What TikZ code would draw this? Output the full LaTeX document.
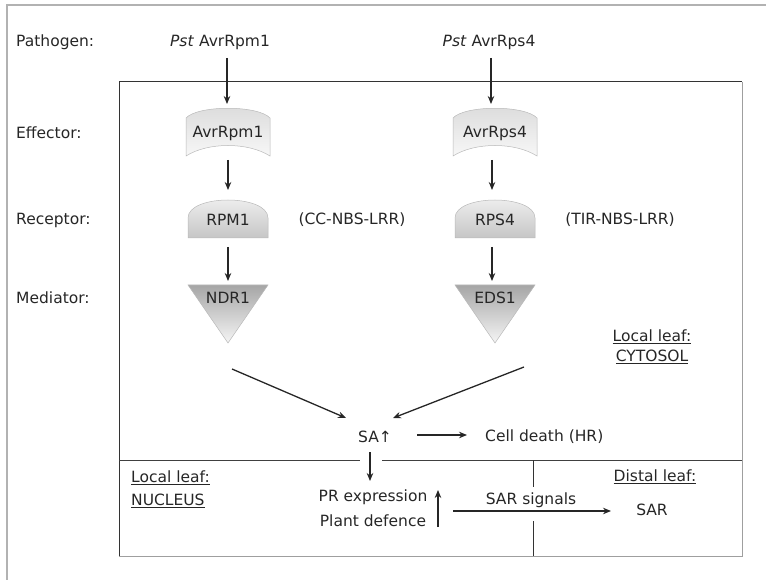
\documentclass[tikz,border=0pt]{standalone}
\usepackage{fontspec}
\setmainfont{DejaVu Sans}
\usetikzlibrary{arrows.meta}
\begin{document}
\begin{tikzpicture}[x=1pt,y=-1pt,
  font=\fontsize{15.5}{18}\selectfont,
  txt/.style={inner sep=0pt, text=black!85},
  lbl/.style={txt, anchor=west},
  arr/.style={-{Stealth[length=8pt,width=6.5pt]}, line width=1.3pt, black!85},
  frameline/.style={line width=1pt, black!80},
  effshape/.style={top color=gray!28, bottom color=gray!6, draw=gray!55, line width=0.5pt},
  recshape/.style={top color=gray!10, bottom color=gray!45, draw=gray!55, line width=0.5pt},
  medshape/.style={top color=gray!70, bottom color=gray!8, draw=gray!55, line width=0.5pt}]
\useasboundingbox (0,0) rectangle (766,580);
% outer frame (top and left only visible)
\draw[gray!60, line width=2pt] (7,580) -- (7,5) -- (766,5);
% inner box
\draw[frameline] (119,556) -- (119,82) -- (742,82);
\draw[line width=1pt, gray!75] (742,82) -- (742,556) -- (119,556);
% row labels
\node[lbl] (lpat) at (16,42) {Pathogen:};
\node[lbl] (leff) at (16,133) {Effector:};
\node[lbl] (lrec) at (16,220) {Receptor:};
\node[lbl] (lmed) at (16,298) {Mediator:};
% pathogen
\node[txt] (pst1) at (220,42) {\textit{Pst} AvrRpm1};
\node[txt] (pst2) at (489,42) {\textit{Pst} AvrRps4};
% effector shapes
\foreach \cx/\nm in {228/AvrRpm1, 495/AvrRps4}{
  \shade[effshape] (\cx-42,156) -- (\cx-42,118) .. controls (\cx-30,105) and (\cx+30,105) .. (\cx+42,118)
     -- (\cx+42,156) .. controls (\cx+20,142) and (\cx-20,142) .. (\cx-42,156) -- cycle;
}
\node[txt] (eff1) at (228,133) {AvrRpm1};
\node[txt] (eff2) at (495,133) {AvrRps4};
% receptor shapes
\foreach \cx in {228,495}{
  \shade[recshape] (\cx-40,238) -- (\cx-40,218) .. controls (\cx-40,194) and (\cx+40,194) .. (\cx+40,218)
     -- (\cx+40,238) -- cycle;
}
\node[txt] (rec1) at (228,220) {RPM1};
\node[txt] (rec2) at (495,220) {RPS4};
\node[txt] (cc) at (352,220) {(CC-NBS-LRR)};
\node[txt] (tir) at (620,220) {(TIR-NBS-LRR)};
% mediator triangles
\foreach \cx in {228,495}{
  \shade[medshape] (\cx-40,285) -- (\cx+40,285) -- (\cx,343) -- cycle;
}
\node[txt] (med1) at (228,298) {NDR1};
\node[txt] (med2) at (495,298) {EDS1};
% arrow coordinates
\coordinate (a1s) at (227,58);  \coordinate (a1e) at (227,104);
\coordinate (a2s) at (491,58);  \coordinate (a2e) at (491,104);
\coordinate (b1s) at (228,160); \coordinate (b1e) at (228,190);
\coordinate (b2s) at (492,160); \coordinate (b2e) at (492,190);
\coordinate (c1s) at (228,247); \coordinate (c1e) at (228,281);
\coordinate (c2s) at (492,247); \coordinate (c2e) at (492,281);
\draw[arr] (a1s) -- (a1e);
\draw[arr] (a2s) -- (a2e);
\draw[arr] (b1s) -- (b1e);
\draw[arr] (b2s) -- (b2e);
\draw[arr] (c1s) -- (c1e);
\draw[arr] (c2s) -- (c2e);
% cytosol label
\node[txt] (cyt1) at (652,337) {\underline{Local leaf:}};
\node[txt] (cyt2) at (652,357) {\underline{CYTOSOL}};
% SA
\node[txt] (sa) at (375,437) {SA↑};
\node[txt, anchor=west] (cd) at (485,437) {Cell death (HR)};
\coordinate (m1) at (232,369);
\coordinate (m2) at (524,367);
\draw[arr] (m1) -- (346,418);
\draw[arr] (m2) -- (393,418);
\draw[arr] (417,435) -- (467,435);
% divider lines
\draw[line width=1pt, black!75] (119,460) -- (360,460);
\draw[line width=1pt, black!75] (382,460) -- (742,460);
\draw[line width=1pt, black!80] (533,460) -- (533,487);
\draw[line width=1pt, black!80] (533,521) -- (533,556);
% nucleus
\node[lbl] (nuc1) at (131,478) {\underline{Local leaf:}};
\node[lbl] (nuc2) at (131,501) {\underline{NUCLEUS}};
\draw[arr] (370,452) -- (370,481);
\node[txt] (pr) at (373,497) {PR expression};
\node[txt] (pd) at (373,521) {Plant defence};
\coordinate (upb) at (438,527);
\draw[arr] (upb) -- (438,490);
\node[txt] (sars) at (531,500) {SAR signals};
\node[txt] (dist) at (655,477) {\underline{Distal leaf:}};
\node[txt] (sar) at (652,510) {SAR};
\draw[arr] (453,511) -- (611,511);
\end{tikzpicture}
\end{document}
